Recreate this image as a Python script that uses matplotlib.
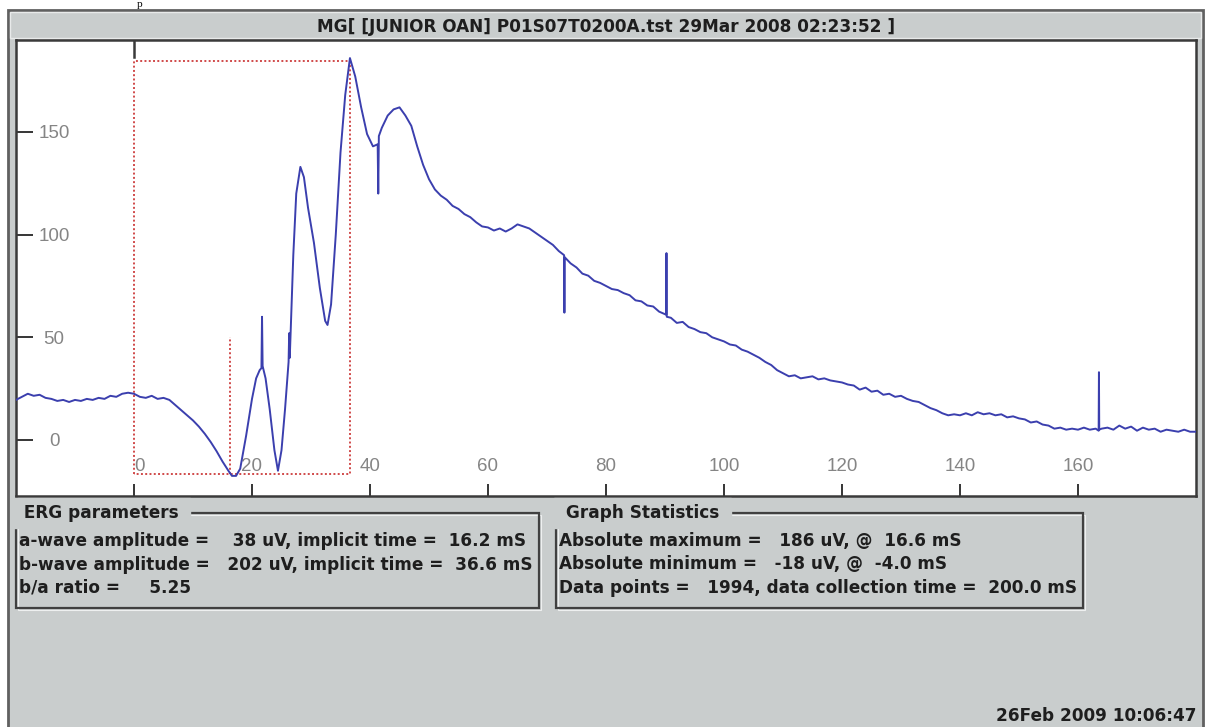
import matplotlib
matplotlib.use('Agg')
import matplotlib.pyplot as plt
from matplotlib.patches import Rectangle

# ---------------- data ----------------
time_ms = [-20, -19, -18, -17, -16, -15, -14, -13, -12, -11, -10, -9, -8, -7, -6, -5, -4, -3, -2, -1,
           0, 1, 2, 3, 4, 5, 6, 7, 8, 9, 10, 11, 12, 13, 14, 15, 16, 16.6, 17.3, 18, 19, 20,
           20.7, 21.3, 21.6, 21.7, 21.8, 22.3, 23, 23.8, 24.4, 25, 25.6, 26.2, 26.3, 26.4, 27, 27.5,
           28.2, 28.8, 29.5, 30.5, 31.5, 32.4, 32.8, 33.4, 34.2, 35, 35.8, 36.6, 37.5, 38.5, 39.5,
           40.5, 41.3, 41.4, 41.5, 42, 43, 44, 45, 46, 47, 48, 49, 50, 51, 52, 53, 54, 55, 56, 57,
           58, 59, 60, 61, 62, 63, 64, 65, 66, 67, 68, 69, 70, 71, 72, 72.9, 72.95, 73, 74, 75, 76,
           77, 78, 79, 80, 81, 82, 83, 84, 85, 86, 87, 88, 89, 90.2, 90.25, 90.3, 91, 92, 93, 94,
           95, 96, 97, 98, 99, 100, 101, 102, 103, 104, 105, 106, 107, 108, 109, 110, 111, 112,
           113, 114, 115, 116, 117, 118, 119, 120, 121, 122, 123, 124, 125, 126, 127, 128, 129,
           130, 131, 132, 133, 134, 135, 136, 137, 138, 139, 140, 141, 142, 143, 144, 145, 146,
           147, 148, 149, 150, 151, 152, 153, 154, 155, 156, 157, 158, 159, 160, 161, 162, 163,
           163.5, 163.55, 163.6, 164, 165, 166, 167, 168, 169, 170, 171, 172, 173, 174, 175, 176,
           177, 178, 179, 180]
amplitude_uv = [19.5, 21, 22.5, 21.5, 22, 20.5, 20, 19, 19.5, 18.5, 19.5, 19, 20, 19.5, 20.5, 20, 21.5, 21, 22.5, 23,
                22.5, 21, 20.5, 21.5, 20, 20.5, 19.5, 17, 14.5, 12, 9.5, 6.5, 3, -1, -5.5, -10.5, -15, -17.5, -17.5, -14, 2, 20,
                30, 34, 35, 60, 36, 30, 15, -5, -15, -5, 15, 38, 52, 40, 90, 120,
                133, 128, 113, 96, 74, 58, 56, 66, 100, 140, 168, 186, 177, 162, 149,
                143, 144, 120, 148, 152, 158, 161, 162, 158, 153, 143, 134, 127, 122, 119, 117, 114, 112.5, 110, 108.5,
                106, 104, 103.5, 102, 103, 101.5, 103, 105, 104, 103, 101, 99, 97, 95, 92, 90, 62, 89, 86, 84, 81,
                80, 77.5, 76.5, 75, 73.5, 73, 71.5, 70.5, 68, 67.5, 65.5, 65, 62.5, 61, 91, 60, 59.5, 57, 57.5, 55,
                54, 52.5, 52, 50, 49, 48, 46.5, 46, 44, 43, 41.5, 40, 38, 36.5, 34, 32.5, 31, 31.5,
                30, 30.5, 31, 29.5, 30, 29, 28.5, 28, 27, 26.5, 24.5, 25.5, 23.5, 24, 22, 22.5, 21,
                21.5, 20, 19, 18.5, 17, 15.5, 14.5, 13, 12, 12.5, 12, 13, 12, 13.5, 12.5, 13, 12,
                12.5, 11, 11.5, 10.5, 10, 8.5, 9, 7.5, 7, 5.5, 6, 5, 5.5, 5, 6, 5, 5.5,
                4.5, 33, 5, 5.5, 6, 5, 7, 5.5, 6.5, 4.5, 6, 5, 5.5, 4, 5, 4.5,
                4, 5, 4, 4]

x_ticks = [0, 20, 40, 60, 80, 100, 120, 140, 160]
y_ticks = [0, 50, 100, 150]

a_wave_time = 16.2
b_wave_time = 36.6
a_trough = -16.5
b_peak = 184.5
a_marker_top = 50

title_text = "MG[ [JUNIOR OAN] P01S07T0200A.tst 29Mar 2008 02:23:52 ]"
erg_title = "ERG parameters"
erg_lines = ["a-wave amplitude =    38 uV, implicit time =  16.2 mS",
             "b-wave amplitude =   202 uV, implicit time =  36.6 mS",
             "b/a ratio =     5.25"]
stat_title = "Graph Statistics"
stat_lines = ["Absolute maximum =   186 uV, @  16.6 mS",
              "Absolute minimum =   -18 uV, @  -4.0 mS",
              "Data points =   1994, data collection time =  200.0 mS"]
stamp_text = "26Feb 2009 10:06:47"

# ---------------- figure ----------------
W, H = 1206, 727
fig = plt.figure(figsize=(W / 100, H / 100), dpi=100)
fig.patch.set_facecolor('white')

def fx(x):
    return x / W

def fy(y):
    return 1 - y / H

PX = 0.72  # points per pixel at 100 dpi
GRAY = '#c9cdcd'
DARK = '#3a3a3a'
FONT = ['DejaVu Sans']
TXT = '#1e1e1e'
FS = 12.2

def frect(x0, y0, x1, y1, z=0.5, **kw):
    r = Rectangle((fx(x0), fy(y1)), fx(x1) - fx(x0), fy(y0) - fy(y1),
                  transform=fig.transFigure, zorder=z, **kw)
    fig.patches.append(r)
    return r

# outer panel
frect(8, 10, 1203, 730, z=-2, facecolor=GRAY, edgecolor='#606060', lw=2)
frect(10, 12, 1201, 38, z=-1, facecolor=GRAY, edgecolor='#e8eaea', lw=1)

# stray glyph at the very top (cut-off text above)
fig.text(fx(140), fy(0), "p", fontsize=8, family='Liberation Serif', ha='center', va='top')

fig.text(fx(606), fy(27), title_text, fontsize=FS, fontweight='bold', family=FONT,
         ha='center', va='center', color=TXT)

# plot area
ax = fig.add_axes([fx(16), fy(496), fx(1196) - fx(16), fy(40) - fy(496)])
ax.set_zorder(2)
ax.set_facecolor('white')
ax.plot(time_ms, amplitude_uv, color='#3b3fae', lw=1.4, zorder=3, solid_joinstyle='round')

red = '#d04a4a'
dot = (0, (1, 1.2))
ax.plot([0, 0, b_wave_time, b_wave_time, 0], [a_trough, b_peak, b_peak, a_trough, a_trough],
        color=red, lw=1.4, ls=dot, zorder=2)
ax.plot([a_wave_time, a_wave_time], [a_trough, a_marker_top], color=red, lw=1.4, ls=dot, zorder=2)

ax.set_xlim(-20, 180)
ax.set_ylim(-27.3, 194.8)
ax.axvline(0, ymin=1 - 17 / 456, ymax=1, color=DARK, lw=1.8, zorder=4)

ax.set_xticks(x_ticks)
ax.set_yticks(y_ticks)
ax.set_xticklabels([str(v) for v in x_ticks])
ax.set_yticklabels([str(v) for v in y_ticks])
ax.tick_params(axis='x', direction='in', length=12 * PX, width=2 * PX, color=DARK, pad=-38 * PX,
               labelsize=13.5, labelcolor='#858585')
ax.tick_params(axis='y', direction='in', length=17 * PX, width=2 * PX, color=DARK, pad=-38 * PX,
               labelsize=13.5, labelcolor='#858585')
for lab in ax.get_yticklabels():
    lab.set_horizontalalignment('center')
    lab.set_family(['Liberation Sans'])
for lab in ax.get_xticklabels():
    lab.set_family(['Liberation Sans'])
ax.get_xticklabels()[0].set_horizontalalignment('left')

for s in ax.spines.values():
    s.set_color(DARK)
    s.set_linewidth(1.8)

# group boxes
def group_box(x0, y0, x1, y1, title, lines, tx):
    frect(x0, y0, x1, y1, facecolor='none', edgecolor='#404040', lw=1.6)
    frect(x0 + 1.5, y0 + 1.5, x1 + 1.5, y1 + 1.5, z=0.4, facecolor='none', edgecolor='#eef0f0', lw=0.8)
    fig.text(fx(tx), fy(y0), ' ' + title + ' ', fontsize=FS, fontweight='bold', family=FONT,
             ha='left', va='center', color=TXT, backgroundcolor=GRAY, zorder=3)
    for i, line in enumerate(lines):
        fig.text(fx(x0 + 3), fy(y0 + 28 + 23.5 * i), line, fontsize=FS, fontweight='bold', family=FONT,
                 ha='left', va='center', color=TXT, zorder=3)

group_box(16, 513, 539, 608, erg_title, erg_lines, 18)
group_box(556, 513, 1083, 608, stat_title, stat_lines, 560)

fig.text(fx(1197), fy(716), stamp_text, fontsize=FS, fontweight='bold', family=FONT,
         ha='right', va='center', color=TXT)

fig.savefig('out.png', dpi=100, facecolor=fig.get_facecolor())
